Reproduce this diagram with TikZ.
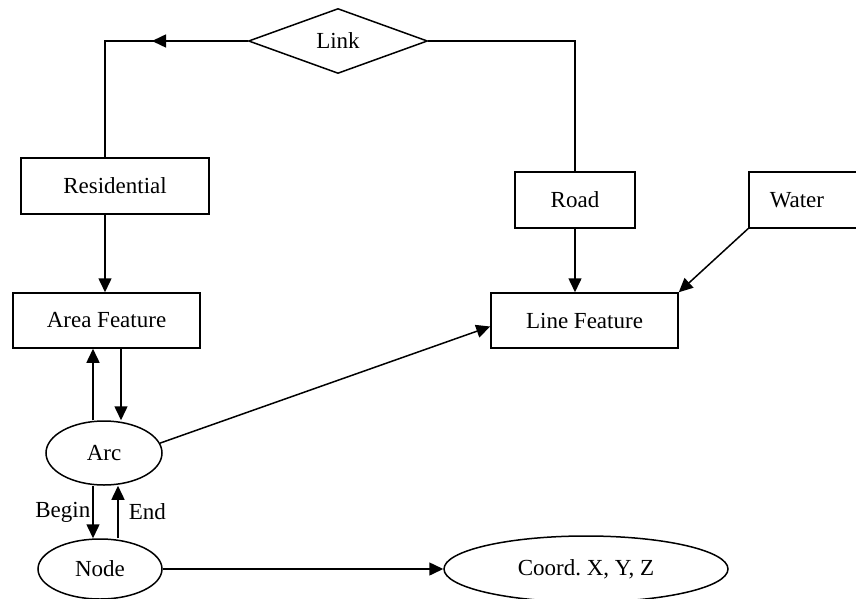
\documentclass[tikz,border=0pt]{standalone}
\usepackage{fontspec}
\setmainfont{Liberation Serif}
\usetikzlibrary{arrows.meta,shapes.geometric,calc}

\begin{document}
\frenchspacing
\begin{tikzpicture}[x=0.5pt, y=-0.5pt, line width=0.75pt,
  >={Triangle[length=7pt,width=6.5pt]},
  every node/.style={font=\fontsize{11.5}{14}\selectfont},
  box/.style={draw, rectangle, inner sep=0pt},
  oval/.style={draw, ellipse, inner sep=0pt},
  rel/.style={draw, diamond, inner sep=0pt, minimum width=89.5pt, minimum height=32.5pt}]

\useasboundingbox (0,0) rectangle (856,599);

% -------- Entities -----------
\node [rel] (link) at (338, 41) {Link};
\node [box, minimum width=94pt,   minimum height=28pt]   (resid) at (115, 186)   {Residential};
\node [box, minimum width=60pt,   minimum height=28pt]   (road)  at (575, 200)   {Road};
\node [box, anchor=west, text width=50pt, align=left, inner xsep=10.5pt,
       minimum height=28pt] (water) at (748, 200) {Water};
\node [box, minimum width=93.5pt, minimum height=27.5pt] (area)  at (106.5, 320.5) {Area Feature};
\node [box, minimum width=93.5pt, minimum height=27.5pt] (linef) at (584.5, 320.5) {Line Feature};

\node [oval, minimum width=58pt,  minimum height=32pt] (arcs)  at (104, 453) {Arc};
\node [oval, minimum width=62pt,  minimum height=30pt] (pnode) at (100, 569) {Node};
\node [oval, minimum width=142pt, minimum height=33pt] (coord) at (586, 569) {Coord. X, Y, Z};

\coordinate (cornerL) at (105, 41);
\coordinate (tipL)    at (152, 41);

% -------- Link -----------
\draw (link.west) -- (cornerL) -- (cornerL |- resid.north);
\draw [->] (link.west) -- (tipL);
\draw (link.east) -| (road.north);

% -------- Features -----------
\draw [->] (cornerL |- resid.south) -- (cornerL |- area.north);
\draw [->] (road.south) -- (road.south |- linef.north);
\draw [->] (water.south west) -- (linef.north east);

% Arc
\draw [->] ([xshift=-5.5pt]arcs.north) -- ([xshift=-5.5pt]arcs.north |- area.south);
\draw [->] ([xshift=8.5pt]arcs.north |- area.south) -- ([xshift=8.5pt]arcs.north);
\draw [->] (arcs.10) -- ([yshift=-3pt]linef.west);

% Node
\draw [->] ([xshift=-5.5pt]arcs.south) -- ([xshift=-5.5pt]arcs.south |- pnode.north)
  node [midway, left, inner sep=1pt] {Begin};
\draw [->] ([xshift=7pt]arcs.south |- pnode.north) -- ([xshift=7pt]arcs.south)
  node [midway, right, inner sep=5pt] {End};
\draw [->] (pnode.east) -- (coord.west);

\end{tikzpicture}
\end{document}
